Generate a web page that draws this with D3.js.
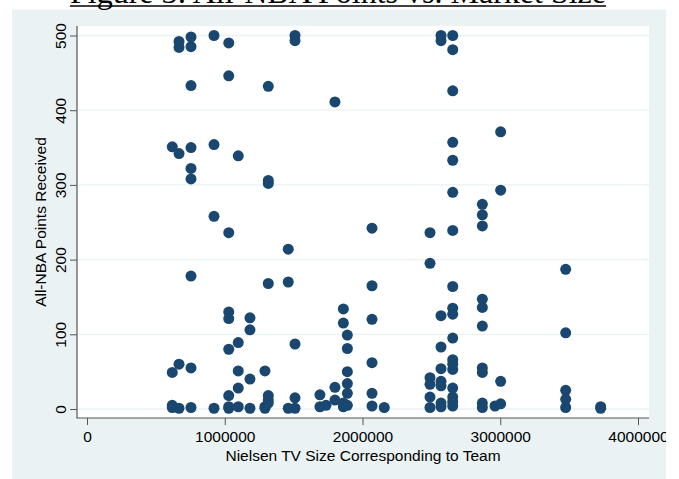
<!DOCTYPE html>
<html>
<head>
<meta charset="utf-8">
<script src="https://cdn.jsdelivr.net/npm/d3@7"></script>
<style>
  body { margin: 0; background: #fff; }
  svg { display: block; }
  .tick text { font-family: "Liberation Sans", Arial, sans-serif; font-size: 15.5px; fill: #000; }
</style>
</head>
<body>
<div id="chart"></div>
<script>
// Figure 3: All-NBA points received vs. Nielsen TV market size of the team

// market size of each team column (TV households)
var tvSize = [619000, 668000, 755000, 922000, 1029000, 1098000, 1183000, 1292000,
  1316000, 1461000, 1510000, 1691000, 1735000, 1800000, 1861000, 1890000,
  2069000, 2158000, 2490000, 2570000, 2655000, 2870000, 2962000, 3003000,
  3475000, 3729000];

// All-NBA points received by players of the team in each column
var nbaPoints = [
  [351, 49, 5, 2],
  [492, 484, 342, 60, 1],
  [498, 485, 433, 350, 322, 308, 178, 55, 2],
  [500, 354, 258, 1],
  [490, 446, 236, 130, 121, 80, 18, 3, 1],
  [339, 89, 51, 28, 3],
  [122, 106, 40, 1],
  [51, 3, 1],
  [432, 306, 302, 168, 18, 12, 8],
  [214, 170, 1],
  [500, 493, 87, 15, 1],
  [19, 3],
  [5],
  [411, 29, 12],
  [134, 115, 8, 3],
  [99, 81, 50, 34, 21, 5],
  [242, 165, 120, 62, 21, 4],
  [2],
  [236, 195, 42, 33, 16, 2],
  [500, 493, 125, 83, 54, 37, 31, 8, 3],
  [500, 481, 426, 357, 333, 290, 239, 164, 135, 127, 95, 66, 60, 53, 28, 16, 10, 4],
  [274, 260, 245, 147, 136, 111, 55, 49, 8, 2],
  [4],
  [371, 293, 37, 7],
  [187, 102, 25, 13, 2],
  [3, 1]
];

var xTicks = [0, 1000000, 2000000, 3000000, 4000000];
var yTicks = [0, 100, 200, 300, 400, 500];

var data = [];
tvSize.forEach(function(s, i) {
  nbaPoints[i].forEach(function(p) {
    data.push({size: s, points: p});
  });
});

var width = 679, height = 479;

var main_chart = d3.select('#chart')
  .append('svg')
  .attr('width', width)
  .attr('height', height);

// the graph is cut at the right edge of its grey region
main_chart.append('clipPath')
  .attr('id', 'graph-clip')
  .append('rect')
  .attr('x', 0).attr('y', 0)
  .attr('width', 666).attr('height', height);

var svg = main_chart.append('g')
  .attr('clip-path', 'url(#graph-clip)');

// outer graph region
svg.append('rect')
  .attr('x', 12).attr('y', 9.5)
  .attr('width', 654).attr('height', 470)
  .attr('fill', '#eaf2f3');

var plot = {left: 77, top: 26, right: 649, bottom: 418};

// plot region
svg.append('rect')
  .attr('x', plot.left).attr('y', plot.top)
  .attr('width', plot.right - plot.left)
  .attr('height', plot.bottom - plot.top)
  .attr('fill', '#fff');

var x_scale = d3.scaleLinear().domain([0, 4000000]).range([87, 638]);
var y_scale = d3.scaleLinear().domain([0, 500]).range([409, 35.5]);

// grid lines
svg.append('g')
  .selectAll('line')
  .data(yTicks)
  .enter()
  .append('line')
  .attr('x1', plot.left + 1).attr('x2', plot.right)
  .attr('y1', function(d) { return y_scale(d); })
  .attr('y2', function(d) { return y_scale(d); })
  .attr('stroke', '#eaf2f3')
  .attr('stroke-width', 1.3);

// x axis
var xAxis = d3.axisBottom(x_scale).tickValues(xTicks).tickSize(7).tickSizeOuter(0).tickPadding(6)
  .tickFormat(d3.format('d'));
var gx = svg.append('g')
  .attr('transform', 'translate(0,' + plot.bottom + ')')
  .call(xAxis);
gx.select('.domain').remove();
gx.selectAll('.tick line').attr('stroke', '#555');

// y axis
var yAxis = d3.axisLeft(y_scale).tickValues(yTicks).tickSize(7).tickSizeOuter(0);
var gy = svg.append('g')
  .attr('transform', 'translate(' + plot.left + ',0)')
  .call(yAxis);
gy.select('.domain').remove();
gy.selectAll('.tick line').attr('stroke', '#555');
gy.selectAll('.tick text')
  .attr('x', 0).attr('dy', 0)
  .attr('transform', 'translate(-11,0) rotate(-90)')
  .style('text-anchor', 'middle');

// axis lines
svg.append('path')
  .attr('d', 'M' + plot.left + ',' + plot.top + 'V' + plot.bottom + 'H' + plot.right)
  .attr('fill', 'none')
  .attr('stroke', '#555')
  .attr('stroke-width', 1.2);

// axis titles
svg.append('text')
  .attr('x', 363).attr('y', 461)
  .style('text-anchor', 'middle')
  .style('font-family', '"Liberation Sans", Arial, sans-serif')
  .style('font-size', '15.5px')
  .text('Nielsen TV Size Corresponding to Team');

svg.append('text')
  .attr('transform', 'translate(46,222) rotate(-90)')
  .style('text-anchor', 'middle')
  .style('font-family', '"Liberation Sans", Arial, sans-serif')
  .style('font-size', '15.5px')
  .text('All-NBA Points Received');

// points
svg.append('g')
  .selectAll('circle')
  .data(data)
  .enter()
  .append('circle')
  .attr('cx', function(d) { return x_scale(d.size); })
  .attr('cy', function(d) { return y_scale(d.points); })
  .attr('r', 5.5)
  .attr('fill', '#1a476f');

// title (cut at the top of the page, as in the source figure)
var title = main_chart.append('text')
  .attr('x', 338).attr('y', 3)
  .style('text-anchor', 'middle')
  .style('font-family', '"Liberation Serif", "Times New Roman", serif')
  .style('font-size', '32px')
  .text('Figure 3: All-NBA Points vs. Market Size');
var tb = title.node().getBBox();
main_chart.append('line')
  .attr('x1', tb.x).attr('x2', tb.x + tb.width)
  .attr('y1', 6).attr('y2', 6)
  .attr('stroke', '#000').attr('stroke-width', 1.6);
</script>
</body>
</html>
